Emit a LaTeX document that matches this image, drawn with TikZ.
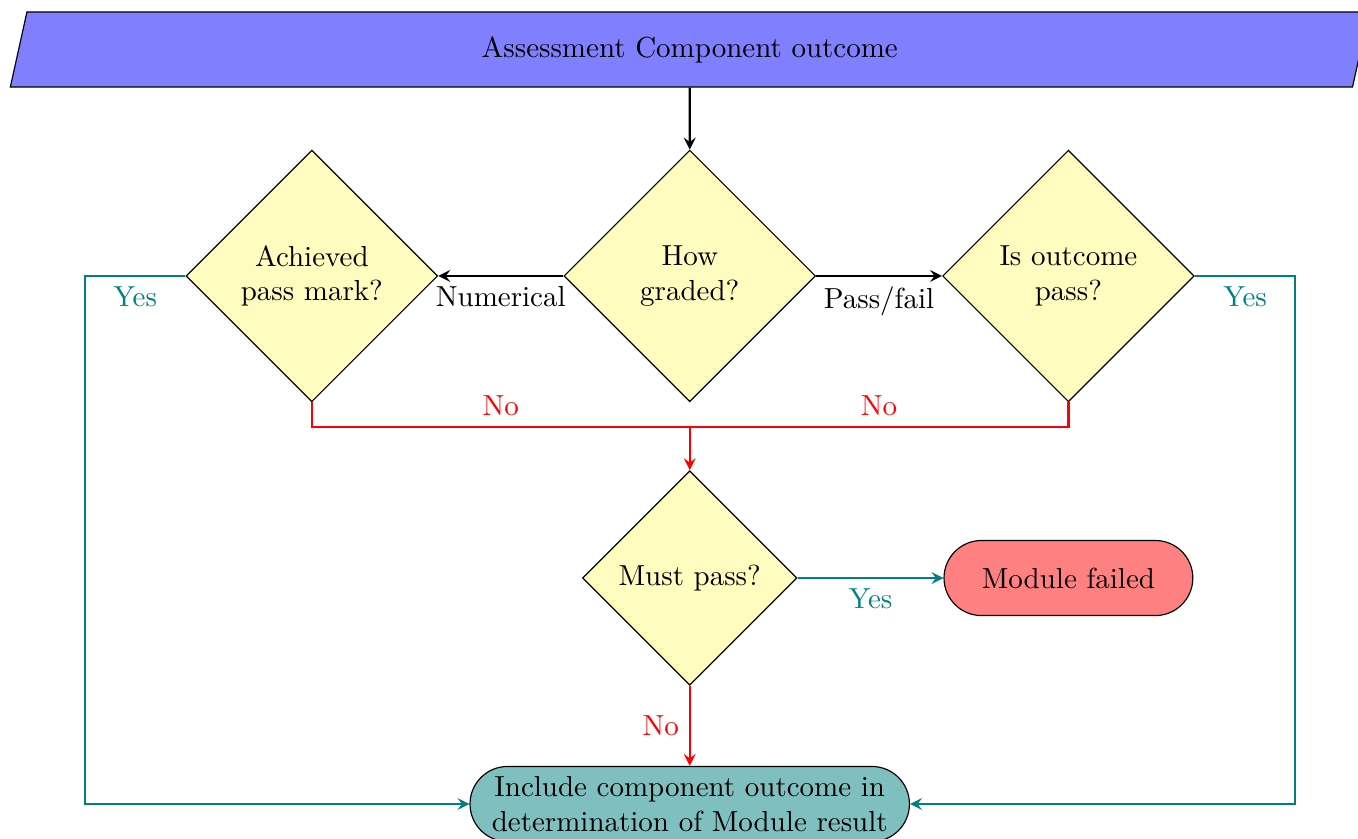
\documentclass[tikz,border=0pt]{standalone}
\usepackage{tikz}
\usetikzlibrary{shapes.geometric,shapes.misc,arrows}
\tikzset{
  io/.style={trapezium, trapezium left angle=70, trapezium right angle=110,
    trapezium stretches body=true, draw, fill=blue!50, minimum width=16.47cm, minimum height=0.91cm},
  decision/.style={diamond, draw, fill=yellow!25, align=center, inner sep=0pt,
    minimum width=3.05cm, minimum height=3.05cm},
  terminal/.style={rounded rectangle, draw, align=center, minimum height=0.91cm},
  line/.style={draw, thick, ->, >=stealth},
  noline/.style={draw, thick, red},
  yesline/.style={draw, thick, teal},
}

\begin{document}
\begin{tikzpicture}
  \useasboundingbox (0,0) rectangle (16.46,-10.16);
  \def\mid{8.36}

  % nodes
  \node[io] (outcome) at (\mid,-0.6) {Assessment Component outcome};
  \node[decision] (graded) at (\mid,-3.345) {How\\graded?};
  \node[decision] (passmark) at (3.78,-3.345) {Achieved\\pass mark?};
  \node[decision] (ispass) at (12.95,-3.345) {Is outcome\\pass?};
  \node[decision, minimum width=2.6cm, minimum height=2.6cm] (mustpass) at (\mid,-7.006) {Must pass?};
  \node[terminal, fill=red!50, minimum width=3.25cm] (failed) at (12.95,-7.006) {Module failed};
  \node[terminal, fill=teal!50] (include) at (\mid,-9.745)
    {Include component outcome in\\determination of Module result};

  \coordinate (join) at (\mid,-5.176);
  \coordinate (left) at (1.03,-3.345);
  \coordinate (right) at (15.70,-3.345);

  % connectors
  \draw[line] (outcome) -- (graded);
  \draw[line] (graded.west) -- node[below]{Numerical} (passmark.east);
  \draw[line] (graded.east) -- node[below]{Pass/fail} (ispass.west);

  \draw[noline] (passmark.south) |- node[pos=0.75, above]{No} (join);
  \draw[noline] (ispass.south) |- node[pos=0.75, above]{No} (join);
  \draw[line, red] (join) -- (mustpass.north);

  \draw[yesline, ->, >=stealth] (passmark.west) -- node[below]{Yes} (left) |- (include.west);
  \draw[yesline, ->, >=stealth] (ispass.east) -- node[below]{Yes} (right) |- (include.east);

  \draw[yesline, ->, >=stealth] (mustpass.east) -- node[below]{Yes} (failed.west);
  \draw[line, red] (mustpass.south) -- node[left]{No} (include.north);
\end{tikzpicture}
\end{document}
